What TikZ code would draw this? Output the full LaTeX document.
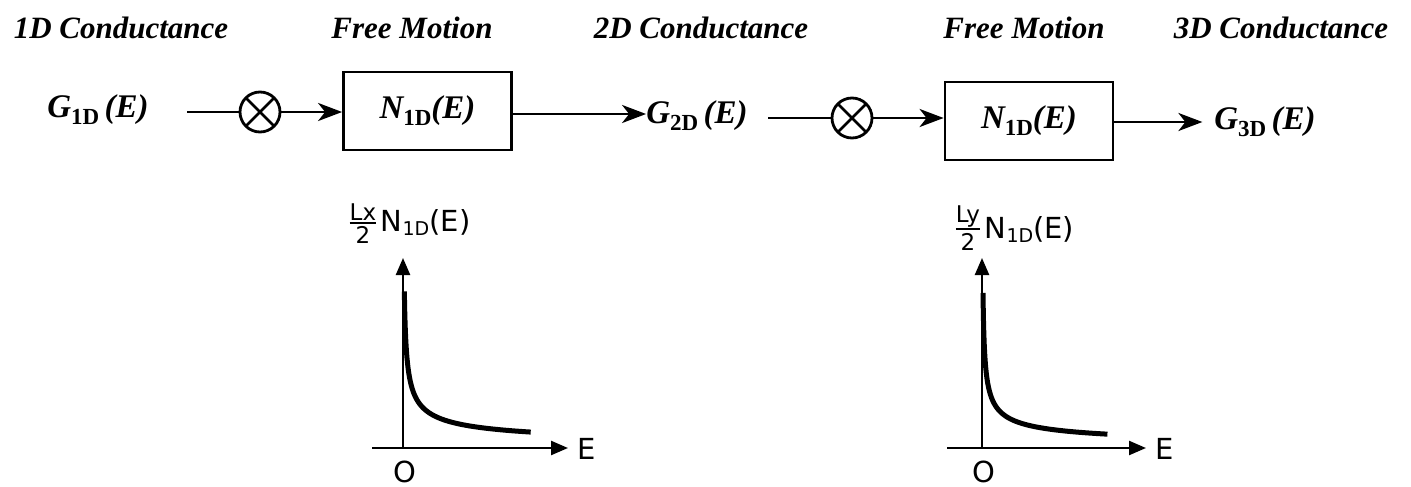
\documentclass[tikz,border=0pt]{standalone}
\usepackage{fontspec}
\setmainfont{Liberation Serif}
\newfontfamily\sansf{DejaVu Sans}
\usetikzlibrary{arrows.meta}
\newcommand{\gl}[1]{{\bfseries\itshape G}\raisebox{-7pt}{\fontsize{23}{23}\selectfont\bfseries\upshape #1}{\bfseries\itshape\,(E)}}
\newcommand{\nl}{{\bfseries\itshape N}\raisebox{-7pt}{\fontsize{23}{23}\selectfont\bfseries\upshape 1D}{\bfseries\itshape (E)}}
\newcommand{\frc}[2]{\raisebox{-12pt}{\fontsize{23}{23}\selectfont\vbox{\halign{\hfil##\hfil\cr #1\cr\noalign{\kern1pt\hrule height1.8pt\kern3pt}#2\cr}}}}
\newcommand{\dl}[1]{\frc{L#1}{2}\,N\raisebox{-4pt}{\fontsize{19}{19}\selectfont 1D}(E)}
\begin{document}
\begin{tikzpicture}[x=1pt,y=-1pt,
  title/.style={font=\fontsize{31}{31}\selectfont\bfseries\itshape, inner sep=0pt},
  mlab/.style={font=\fontsize{33}{33}\selectfont, inner sep=0pt},
  blockbox/.style={draw, line width=2.8pt, minimum width=168pt, minimum height=78pt, inner sep=0pt, font=\fontsize{33}{33}\selectfont},
  mult/.style={draw, circle, line width=2.8pt, minimum size=40pt, inner sep=0pt,
    path picture={\draw[line width=2.8pt] (path picture bounding box.north west) -- (path picture bounding box.south east)
      (path picture bounding box.north east) -- (path picture bounding box.south west);}},
  wire/.style={line width=2.8pt},
  arr/.style={line width=2.8pt, -{Stealth[length=24pt,width=18pt,inset=7pt]}},
  axis/.style={line width=2.4pt, -{Triangle[length=17pt,width=14pt]}},
  curve/.style={line width=5pt},
  glab/.style={font=\sansf\fontsize{29}{29}\selectfont, inner sep=0pt},
]
\useasboundingbox (0,0) rectangle (1411,487);
% titles
\node[title] (t1) at (121,28) {1D Conductance};
\node[title] (t2) at (412,28) {Free Motion};
\node[title] (t3) at (701,28) {2D Conductance};
\node[title] (t4) at (1024,28) {Free Motion};
\node[title] (t5) at (1281,28) {3D Conductance};
% main row
\node[mlab] (g1) at (98,110) {\gl{1D}};
\node[mult] (m1) at (260,112) {};
\node[blockbox] (b1) at (427.5,111) {\nl};
\node[mlab] (g2) at (697,116) {\gl{2D}};
\node[mult] (m2) at (852,118) {};
\node[blockbox] (b2) at (1029,121) {\nl};
\node[mlab] (g3) at (1265,122) {\gl{3D}};
\coordinate (w1) at (187,112);
\coordinate (w2) at (768,118);
\draw[wire] (w1) -- (m1.west);
\draw[arr] (m1.east) -- (b1.west |- m1.east);
\draw[arr] (b1.east |- 0,114) -- (g2.west |- 0,114);
\draw[wire] (w2) -- (m2.west);
\draw[arr] (m2.east) -- (b2.west |- m2.east);
\draw[arr] (b2.east |- 0,122) -- ++(88,0);
% graph 1
\coordinate (o1) at (403,448);
\coordinate (yt1) at (403,258);
\coordinate (xl1) at (372,448);
\coordinate (xr1) at (568,448);
\draw[axis] (o1) -- (yt1);
\draw[axis] (xl1) -- (xr1);
\draw[curve] plot[smooth, domain=1.15:11.3, samples=60] ({403+\x*\x},{448-180/\x});
\node[glab] (e1) at (587,449) {E};
\node[glab] (z1) at (405,472) {O};
\node[glab] (n1) at (410,224) {\dl{x}};
% graph 2
\coordinate (o2) at (982,448);
\coordinate (yt2) at (982,258);
\coordinate (xl2) at (947,448);
\coordinate (xr2) at (1146,448);
\draw[axis] (o2) -- (yt2);
\draw[axis] (xl2) -- (xr2);
\draw[curve] plot[smooth, domain=1.0:11.2, samples=60] ({982+\x*\x},{448-155/\x});
\node[glab] (e2) at (1165,449) {E};
\node[glab] (z2) at (984,472) {O};
\node[glab] (n2) at (1015,228) {\dl{y}};
\end{tikzpicture}
\end{document}
